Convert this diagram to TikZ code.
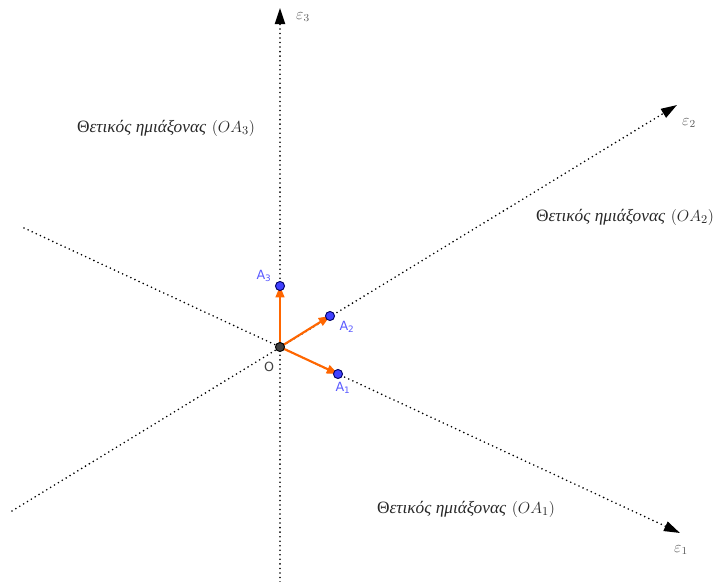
\documentclass[tikz,border=0pt]{standalone}
\usepackage{fontspec}
\setsansfont{DejaVu Sans}
\newfontfamily\grfont{Liberation Serif}
\usetikzlibrary{arrows.meta}
\definecolor{vorange}{RGB}{255,102,0}
\definecolor{ptblue}{RGB}{64,64,255}
\definecolor{ptedge}{RGB}{0,0,100}
\definecolor{lblblue}{RGB}{90,90,255}
\definecolor{lblgray}{RGB}{64,64,64}
\definecolor{axgray}{RGB}{90,90,90}
\definecolor{txtgray}{RGB}{40,40,40}
\tikzset{
  axis/.style={line width=1.35pt, dash pattern=on 0pt off 3.4pt, line cap=round,
    -{Triangle[length=12pt,width=7.5pt,line cap=butt]}},
  vec/.style={vorange, line width=1.6pt, -{Triangle[length=8.5pt,width=6.5pt]}},
  bpt/.style={circle, inner sep=0pt, minimum size=6.8pt, fill=ptblue, draw=ptedge, line width=0.7pt},
  opt/.style={circle, inner sep=0pt, minimum size=6.8pt, fill=lblgray, draw=black, line width=0.7pt},
  plbl/.style={text=lblblue, font=\sffamily\fontsize{9.5}{11}\selectfont, inner sep=0pt},
  olbl/.style={text=lblgray, font=\sffamily\fontsize{9.5}{11}\selectfont, inner sep=0pt},
  axlbl/.style={text=axgray, font=\fontsize{12}{14}\selectfont, inner sep=0pt},
  grtext/.style={text=txtgray, font=\fontsize{13}{16}\selectfont, inner sep=0pt},
}
\newcommand{\hmi}[1]{{\grfont Θ\itshape ετικός ημιάξονας} $(OA_{#1})$}
\begin{document}
\begin{tikzpicture}[x=0.75pt,y=-0.75pt]
\useasboundingbox (0,0) rectangle (718,582);
% axis endpoints
\coordinate (e3s) at (280,582);
\coordinate (e3e) at (280,8);
\coordinate (e1s) at (24,228);
\coordinate (e1e) at (680,533);
\coordinate (e2s) at (12,511);
\coordinate (e2e) at (677,105);
\draw[axis] (e3s) -- (e3e);
\draw[axis] (e1s) -- (e1e);
\draw[axis] (e2s) -- (e2e);
% axis labels
\node[axlbl] (l3) at (303,17) {$\varepsilon_3$};
\node[axlbl] (l2) at (689,123) {$\varepsilon_2$};
\node[axlbl] (l1) at (681,550) {$\varepsilon_1$};
% points
\coordinate (Oc) at (280,347);
\coordinate (A1c) at (338,374);
\coordinate (A2c) at (330,316);
\coordinate (A3c) at (280,286);
\draw[vec] (Oc) -- (A1c);
\draw[vec] (Oc) -- (A2c);
\draw[vec] (Oc) -- (A3c);
\node[opt] (O) at (Oc) {};
\node[bpt] (A1) at (A1c) {};
\node[bpt] (A2) at (A2c) {};
\node[bpt] (A3) at (A3c) {};
\node[olbl] (Ol) at (269,367) {O};
\node[plbl] (A1l) at (343,388) {A\textsubscript{1}};
\node[plbl] (A2l) at (347,327) {A\textsubscript{2}};
\node[plbl] (A3l) at (264,276) {A\textsubscript{3}};
% texts
\node[grtext] (t3) at (166,128) {\hmi{3}};
\node[grtext] (t2) at (625,217) {\hmi{2}};
\node[grtext] (t1) at (466,509) {\hmi{1}};
\end{tikzpicture}
\end{document}
